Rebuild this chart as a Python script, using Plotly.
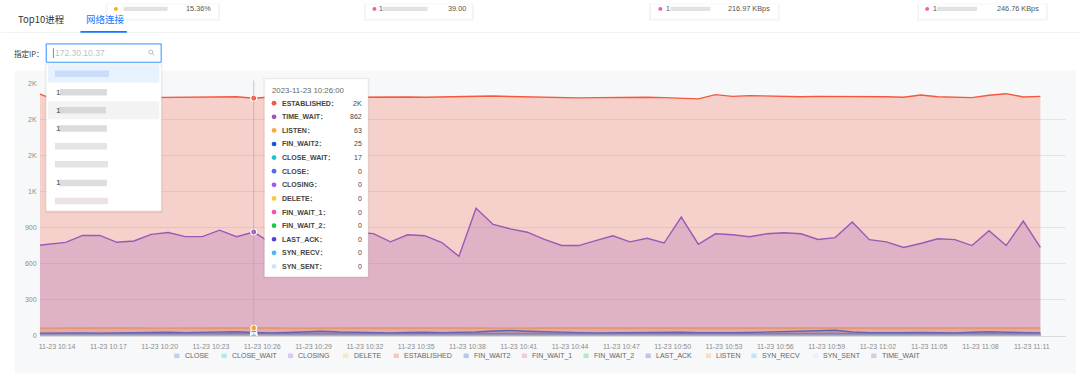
import pandas as pd
import plotly.graph_objects as go

W, H = 1080, 385
FONT = "Arial, 'Liberation Sans', Helvetica, 'Noto Sans CJK SC', sans-serif"
CJK = "'Noto Sans CJK SC', Arial, sans-serif"

# ---------------- data ----------------
TIMES = pd.date_range("2023-11-23 10:13:00", "2023-11-23 11:12:00", freq="1min")
HOVER_TIME = "2023-11-23 10:26:00"

SERIES_NAMES = ["CLOSE", "CLOSE_WAIT", "CLOSING", "DELETE", "ESTABLISHED", "FIN_WAIT2",
                "FIN_WAIT_1", "FIN_WAIT_2", "LAST_ACK", "LISTEN", "SYN_RECV", "SYN_SENT", "TIME_WAIT"]

ESTABLISHED = [2035, 1983, 1978, 1975, 1975, 1978, 1980, 1980, 1983, 1986, 1990, 1992, 1988, 1975,
               1985, 1988, 1990, 1986, 1983, 1985, 1988, 1990, 1986, 1983, 1986, 1990, 1997, 1994,
               1990, 1986, 1983, 1980, 1978, 1980, 1983, 1986, 1983, 1980, 1978, 1970,
               2005, 1991, 1997, 1994, 1986, 1988, 1991, 1991, 1988, 1986, 1988, 1983, 2002, 1988,
               1986, 1980, 2000, 2013, 1986, 1991]

TIME_WAIT = [745, 760, 776, 833, 833, 776, 787, 842, 858, 823, 823, 877, 823, 862,
             770, 800, 850, 820, 790, 860, 848, 780, 839, 831, 774, 659, 1060, 925, 888, 860,
             800, 750, 749, 790, 830, 780, 810, 770, 986, 760,
             847, 839, 823, 847, 855, 847, 800, 815, 945, 798, 780, 733, 766, 806, 798, 749,
             872, 749, 953, 733]

LISTEN = [62, 63, 63, 62, 63, 64, 63, 62, 63, 63, 62, 63, 64, 63,
          63, 62, 63, 63, 64, 63, 62, 63, 63, 63, 62, 63, 64, 63, 63, 62,
          63, 63, 62, 63, 64, 63, 63, 62, 63, 63,
          63, 62, 63, 64, 63, 63, 62, 63, 63, 63,
          62, 63, 64, 63, 63, 62, 63, 63, 64, 63]

FIN_WAIT2 = [20, 22, 24, 22, 20, 22, 25, 30, 28, 24, 26, 30, 32, 25,
             22, 26, 34, 36, 30, 26, 24, 22, 25, 28, 24, 26, 30, 38, 42, 36,
             30, 26, 24, 22, 24, 26, 28, 32, 28, 24,
             22, 24, 26, 28, 30, 32, 40, 44, 30, 24,
             22, 24, 26, 24, 22, 28, 32, 28, 24, 22]

CLOSE_WAIT = [15, 16, 17, 16, 15, 16, 17, 18, 17, 16, 17, 18, 17, 17,
              16, 17, 18, 17, 16, 15, 16, 17, 18, 17, 16, 17, 18, 19, 18, 17,
              16, 17, 16, 15, 16, 17, 18, 17, 16, 17,
              16, 17, 18, 17, 16, 17, 18, 17, 16, 17,
              16, 15, 16, 17, 18, 17, 16, 17, 18, 17]

ZEROS = [0, 0, 0, 0, 0, 0, 0, 0, 0, 0, 0, 0, 0, 0, 0, 0, 0, 0, 0, 0,
         0, 0, 0, 0, 0, 0, 0, 0, 0, 0, 0, 0, 0, 0, 0, 0, 0, 0, 0, 0,
         0, 0, 0, 0, 0, 0, 0, 0, 0, 0, 0, 0, 0, 0, 0, 0, 0, 0, 0, 0]

SERIES = {
    "CLOSE": ZEROS, "CLOSE_WAIT": CLOSE_WAIT, "CLOSING": ZEROS, "DELETE": ZEROS,
    "ESTABLISHED": ESTABLISHED, "FIN_WAIT2": FIN_WAIT2, "FIN_WAIT_1": ZEROS,
    "FIN_WAIT_2": ZEROS, "LAST_ACK": ZEROS, "LISTEN": LISTEN, "SYN_RECV": ZEROS,
    "SYN_SENT": ZEROS, "TIME_WAIT": TIME_WAIT,
}

COLORS = {
    "CLOSE": "#4a6fe3", "CLOSE_WAIT": "#1bc3cf", "CLOSING": "#a657ee", "DELETE": "#ffc53d",
    "ESTABLISHED": "#f5583f", "FIN_WAIT2": "#1a56d6", "FIN_WAIT_1": "#f556a8",
    "FIN_WAIT_2": "#1fc742", "LAST_ACK": "#5a40d8", "LISTEN": "#ffa53a",
    "SYN_RECV": "#4cb8ee", "SYN_SENT": "#c9e6f8", "TIME_WAIT": "#9b58b7",
}

TICK_LABELS = ["11-23 10:14", "11-23 10:17", "11-23 10:20", "11-23 10:23", "11-23 10:26",
               "11-23 10:29", "11-23 10:32", "11-23 10:35", "11-23 10:38", "11-23 10:41",
               "11-23 10:44", "11-23 10:47", "11-23 10:50", "11-23 10:53", "11-23 10:56",
               "11-23 10:59", "11-23 11:02", "11-23 11:05", "11-23 11:08", "11-23 11:11"]
Y_TICKS = [0, 300, 600, 900, 1200, 1500, 1800, 2100]

TAB_LABELS = ["Top10进程", "网络连接"]
CARD_VALUES = ["15.36%", "39.00", "216.97 KBps", "246.76 KBps"]
IP_PLACEHOLDER = "172.30.10.37"


def fmt(v):
    return f"{v / 1000:.0f}K" if v >= 1000 else f"{v:.0f}"


def rgba(h, a):
    h = h.lstrip("#")
    r, g, b = int(h[0:2], 16), int(h[2:4], 16), int(h[4:6], 16)
    return f"rgba({r},{g},{b},{a})"


# ---------------- figure ----------------
fig = go.Figure()
for name in SERIES_NAMES:
    fig.add_trace(go.Scatter(
        x=TIMES, y=SERIES[name], name=name, mode="lines",
        line=dict(color=COLORS[name], width=1.4),
        fill="tozeroy", fillcolor=rgba(COLORS[name], 0.25),
        showlegend=False, legendgroup=name,
        hovertemplate=name + ": %{y}<extra></extra>",
    ))

hover_idx = list(TIMES).index(pd.Timestamp(HOVER_TIME))
fig.add_trace(go.Scatter(
    x=[TIMES[hover_idx]] * len(SERIES_NAMES),
    y=[SERIES[n][hover_idx] for n in SERIES_NAMES],
    mode="markers", showlegend=False, hoverinfo="skip",
    marker=dict(size=6, color=[COLORS[n] for n in SERIES_NAMES],
                line=dict(color="white", width=1.2)),
))

shapes, annos = [], []


def X(px):
    return px / W


def Y(py):
    return 1 - py / H


def rect(x0, y0, x1, y1, fill, line=None, lw=0, layer="above"):
    shapes.append(dict(type="rect", xref="paper", yref="paper",
                       x0=X(x0), x1=X(x1), y0=Y(y1), y1=Y(y0),
                       fillcolor=fill, line=dict(color=line or fill, width=lw), layer=layer))


def circle(cx, cy, r, fill, line=None, lw=0):
    shapes.append(dict(type="circle", xref="paper", yref="paper",
                       x0=X(cx - r), x1=X(cx + r), y0=Y(cy + r), y1=Y(cy - r),
                       fillcolor=fill, line=dict(color=line or fill, width=lw), layer="above"))


def text(x, y, s, size=7, color="#333", xanchor="left", family=FONT):
    annos.append(dict(xref="paper", yref="paper", x=X(x), y=Y(y), text=s, showarrow=False,
                      xanchor=xanchor, yanchor="middle", borderpad=0,
                      font=dict(size=size, color=color, family=family)))


# chart panel background
rect(13.5, 68, 1076, 376.5, "#f7f8fa", layer="below")

# top cards (partially visible)
cards = [(106, 218, 115, (122.7, 166.7), False, 210.7, "#faad14"),
         (364.6, 472, 373.8, (382, 427), True, 466, "#f759ab"),
         (650, 778, 660, (670, 710), True, 771, "#f759ab"),
         (918.5, 1046.6, 927, (937, 977), True, 1040, "#f759ab")]
for (x0, x1, dot, blur, one, vr, dc), val in zip(cards, CARD_VALUES):
    rect(x0 - 1.5, 0, x1 + 1.5, 17, "rgba(0,0,0,0.04)")
    rect(x0, 0, x1, 15.5, "white", line="#ededed", lw=0.5)
    circle(dot, 5, 2, dc)
    if one:
        text(blur[0] - 5, 5, "1", size=7, color="#555")
    rect(blur[0], 2.8, blur[1], 7.2, "#e2e2e2")
    text(vr, 5, val, size=7.3, color="#555", xanchor="right")

# tabs
text(16, 15, TAB_LABELS[0], size=9.5, color="#333", family=CJK)
text(84, 15, TAB_LABELS[1], size=9.5, color="#1677ff", family=CJK)
rect(0, 28.4, 1080, 29.3, "#efefef")
rect(79.5, 27.4, 126, 29.2, "#1677ff")

# IP selector
text(43.5, 50, "指定IP：", size=7.5, color="#333", xanchor="right", family=CJK)
rect(44.3, 39.7, 161.3, 60.3, "rgba(22,119,255,0.12)")
rect(45.3, 40.7, 160.3, 59.3, "white", line="#4096ff", lw=1)
rect(52, 45, 52.6, 55, "#333")
text(53.5, 50, IP_PLACEHOLDER, size=8.5, color="#bfbfbf")
circle(150, 49, 2, "rgba(0,0,0,0)", line="#aaaaaa", lw=0.8)
shapes.append(dict(type="line", xref="paper", yref="paper", x0=X(151.5), x1=X(153.5),
                   y0=Y(50.5), y1=Y(52.5), line=dict(color="#aaaaaa", width=0.8), layer="above"))

# dropdown list
rect(43.8, 60.7, 161.8, 213, "rgba(0,0,0,0.06)")
rect(45.3, 61.7, 160.3, 210.7, "white", line="#eeeeee", lw=0.5)
rect(47, 62.5, 158.5, 80, "#e8f2ff")
rect(47, 99, 158.5, 117.5, "#f3f3f3")
items = [(71, False, 54, 108, "#c9dcfa"), (90, True, 59, 106, "#dadada"),
         (108.3, True, 58, 105, "#d8d8d8"), (126.7, True, 58, 106, "#dcdcdc"),
         (145, False, 54, 106, "#e4e4e4"), (163.3, False, 54, 107, "#e4e4e4"),
         (182.3, True, 58, 106, "#dddddd"), (200.7, False, 54, 107, "#ebe3e3")]
for y, one, bx0, bx1, bc in items:
    if one:
        text(54, y, "1", size=8, color="#444")
    rect(bx0, y - 3.3, bx1, y + 3.3, bc)

# crosshair at hovered time
shapes.append(dict(type="line", xref="x", yref="paper", x0=TIMES[hover_idx], x1=TIMES[hover_idx],
                   y0=Y(337.7), y1=Y(78), line=dict(color="rgba(170,170,170,0.8)", width=0.8),
                   layer="above"))

# tooltip
rect(262.5, 75.3, 368.8, 279.3, "rgba(0,0,0,0.06)")
rect(264, 76.5, 367.3, 277.7, "white", line="#f0f0f0", lw=0.5)
text(270, 88, pd.Timestamp(HOVER_TIME).strftime("%Y-%m-%d %H:%M:%S"), size=7.8, color="#666")
rows = sorted(SERIES_NAMES, key=lambda n: -SERIES[n][hover_idx])
for i, n in enumerate(rows):
    y = 101 + i * 13.86
    circle(273.3, y, 2.4, COLORS[n])
    text(280.5, y, "<b>" + n + "：</b>", size=7, color="#444")
    text(362, y, fmt(SERIES[n][hover_idx]), size=7, color="#444", xanchor="right")

# legend (drawn manually to match the compact layout)
LEGEND_ICON_X = [173.4, 220.7, 287.2, 342.4, 393.0, 463.0, 521.4, 583.0, 645.2, 705.5,
                 751.0, 812.4, 871.0]
for n, ix in zip(SERIES_NAMES, LEGEND_ICON_X):
    rect(ix, 356, ix + 5.2, 360.6, rgba(COLORS[n], 0.3))
    text(ix + 9.5, 358.3, n, size=7, color="#666")

tickvals = [pd.Timestamp("2023-" + s) + pd.Timedelta(seconds=30) for s in TICK_LABELS]

fig.update_layout(
    width=W, height=H, margin=dict(l=0, r=0, t=0, b=0),
    paper_bgcolor="white", plot_bgcolor="rgba(0,0,0,0)",
    font=dict(family=FONT), showlegend=False, hovermode="x",
    shapes=shapes, annotations=annos,
    xaxis=dict(type="date", domain=[X(39), X(1066)],
               range=[pd.Timestamp("2023-11-23 10:13:30"), pd.Timestamp("2023-11-23 11:13:30")],
               tickvals=tickvals, ticktext=TICK_LABELS, tickfont=dict(size=7, color="#8c8c8c"),
               showgrid=False, showline=True, linecolor="#dcdcdc", linewidth=1, zeroline=False,
               ticks="outside", ticklen=4, tickcolor="rgba(0,0,0,0)"),
    yaxis=dict(domain=[Y(337.7), Y(80.7)], range=[0, 2100],
               tickvals=Y_TICKS, ticktext=[fmt(v) for v in Y_TICKS],
               tickfont=dict(size=7, color="#8c8c8c"), gridcolor="#e6e6e6", gridwidth=1,
               zeroline=False, showline=False, ticks="outside", ticklen=1,
               tickcolor="rgba(0,0,0,0)"),
)

fig.write_html("out.html", config={"displayModeBar": False},
               post_script="document.body.style.margin='0';")
